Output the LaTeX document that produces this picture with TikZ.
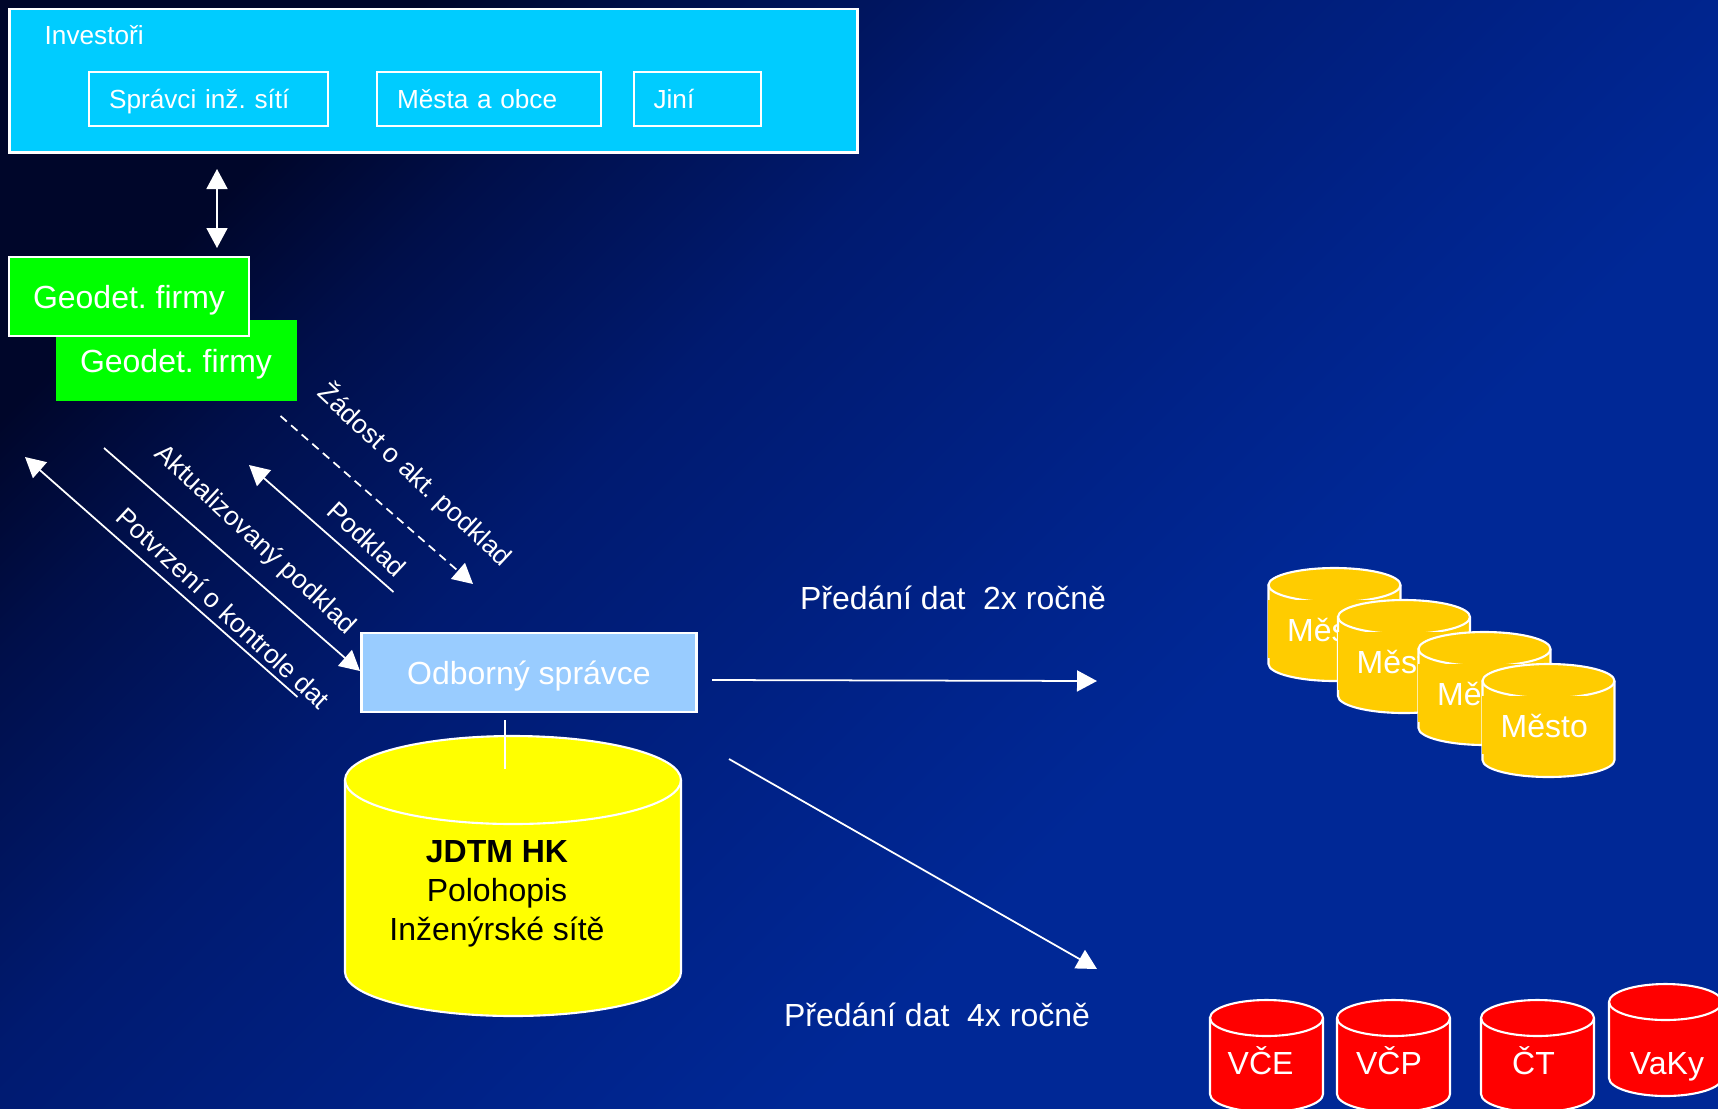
\documentclass[tikz,border=0pt]{standalone}
\usepackage{fontspec}
\setmainfont{Liberation Sans}
\usepackage{tikz}
\usetikzlibrary{arrows.meta}
\frenchspacing

\definecolor{bgdark}{HTML}{00062A}
\definecolor{bgnavy}{HTML}{000F4A}
\definecolor{bgmid}{HTML}{001A70}
\definecolor{bgdeep}{HTML}{00238A}
\definecolor{bgblue}{HTML}{002896}
\definecolor{investcyan}{HTML}{00CCFF}
\definecolor{spravcelight}{HTML}{99CCFF}
\definecolor{firmgreen}{HTML}{00FF00}
\definecolor{jdtmyellow}{HTML}{FFFF00}
\definecolor{mestogold}{HTML}{FFCC00}
\definecolor{utilred}{HTML}{FF0000}

\pgfdeclareverticalshading{bgfade}{100bp}{color(0bp)=(bgblue); color(37.5bp)=(bgblue); color(45bp)=(bgdeep); color(59bp)=(bgmid); color(69bp)=(bgnavy); color(75bp)=(bgdark); color(100bp)=(bgdark)}

\tikzset{
	smalltxt/.style={font=\fontsize{7.45}{9}\selectfont,text=white},
	bigtxt/.style={font=\fontsize{9.1}{11.1}\selectfont,text=white},
	difftxt/.style={font=\fontsize{7.55}{9}\selectfont,text=white,rotate=-43},
	innerbox/.style={draw=white,line width=.6pt,smalltxt,anchor=west,inner xsep=.2cm,inner ysep=0pt,minimum height=.54cm,text height=1.6ex,text depth=.56ex},
	firmbox/.style={fill=firmgreen,bigtxt,text depth=0pt,inner sep=0pt},
	link/.style={color=white,line width=.5pt},
	tip/.style={link,-{Triangle[width=.21cm,length=.2cm]}},
	bothtip/.style={link,{Triangle[width=.21cm,length=.2cm]}-{Triangle[width=.21cm,length=.2cm]}},
	drumline/.style={draw=white,line width=.6pt},
	bigdrum/.style={drumline,fill=jdtmyellow},
	mestodrum/.style={drumline,fill=mestogold},
	reddrum/.style={drumline,fill=utilred},
	mestobox/.style={fill=mestogold,anchor=west,minimum width=1.04cm,minimum height=.58cm,inner sep=0pt},
}

% centre x, y of the upper ellipse, x radius, y radius, height, style
\newcommand{\drum}[6]{
	\draw[#6] (#1-#3,#2) -- (#1-#3,#2-#5) arc (180:360:#3 and #4) -- (#1+#3,#2) arc (0:180:#3 and #4) -- cycle;
	\draw[drumline] (#1-#3,#2) arc (180:360:#3 and #4);
}

\begin{document}
\begin{tikzpicture}
	\clip (0,0) rectangle (17.18,-11.08);
	\shade[shading=bgfade,shading angle=45] (0,0) rectangle (17.18,-11.08);

	% investors
	\node[draw=white,line width=.8pt,fill=investcyan,anchor=north west,minimum width=8.48cm,minimum height=1.435cm,inner sep=0pt] (invest) at (0.08,-0.075) {};
	\node[smalltxt,anchor=west,inner sep=0pt] (investtxt) at (0.44,-0.35) {Investoři};
	\node[innerbox,text width=1.99cm] (spravci) at (0.88,-0.99) {Správci inž. sítí};
	\node[innerbox,text width=1.84cm] (mesta) at (3.76,-0.99) {Města a obce};
	\node[innerbox,text width=0.87cm] (jini) at (6.325,-0.99) {Jiní};

	% firms
	\node[firmbox,minimum width=2.41cm,minimum height=.81cm] (firm2) at (1.76,-3.605) {Geodet. firmy};
	\node[firmbox,draw=white,line width=.6pt,minimum width=2.40cm,minimum height=.79cm] (firm1) at (1.29,-2.965) {Geodet. firmy};

	\node[draw=white,line width=.6pt,fill=spravcelight,bigtxt,text depth=0pt,minimum width=3.35cm,minimum height=.79cm,inner sep=0pt] (spravce) at (5.29,-6.725) {Odborný správce};

	% main database
	\drum{5.13}{-7.80}{1.68}{.44}{1.92}{bigdrum}
	\node[bigtxt,text=black,align=center,inner sep=0pt] (jdtmtxt) at (4.97,-8.935) {\textbf{JDTM HK}\\Polohopis\\Inženýrské sítě};

	% free ends
	\coordinate (updown1) at (2.17,-1.69);
	\coordinate (updown2) at (2.17,-2.48);
	\coordinate (zadost1) at (2.805,-4.16);
	\coordinate (zadost2) at (4.73,-5.84);
	\coordinate (podklad1) at (3.935,-5.92);
	\coordinate (podklad2) at (2.49,-4.65);
	\coordinate (aktual1) at (1.04,-4.48);
	\coordinate (aktual2) at (3.60,-6.71);
	\coordinate (potvrz1) at (2.975,-6.97);
	\coordinate (potvrz2) at (0.25,-4.57);
	\coordinate (stem1) at (5.05,-7.20);
	\coordinate (stem2) at (5.05,-7.69);
	\coordinate (twice1) at (7.12,-6.80);
	\coordinate (twice2) at (10.97,-6.81);
	\coordinate (four1) at (7.29,-7.59);
	\coordinate (four2) at (10.97,-9.69);

	\path[bothtip] (updown1) edge (updown2);
	\path[tip,dash pattern=on 2.4pt off 1.6pt] (zadost1) edge (zadost2);
	\path[tip] (podklad1) edge (podklad2);
	\path[tip] (aktual1) edge (aktual2);
	\path[tip] (potvrz1) edge (potvrz2);
	\path[link] (stem1) edge (stem2);
	\path[tip] (twice1) edge (twice2);
	\path[tip] (four1) edge (four2);

	\node[difftxt] (zadosttxt) at (4.15,-4.75) {Žádost o akt. podklad};
	\node[difftxt] (podkladtxt) at (3.67,-5.39) {Podklad};
	\node[difftxt] (aktualtxt) at (2.55,-5.40) {Aktualizovaný podklad};
	\node[difftxt] (potvrztxt) at (2.235,-6.08) {Potvrzení o kontrole dat};

	\node[bigtxt] (twicetxt) at (9.53,-5.98) {Předání dat\ \ 2x ročně};
	\node[bigtxt] (fourtxt) at (9.37,-10.15) {Předání dat\ \ 4x ročně};

	% cities
	\drum{13.345}{-5.85}{.66}{.17}{.79}{mestodrum}
	\node[mestobox] (mestobox1) at (12.675,-6.29) {};
	\node[bigtxt,anchor=west,inner sep=0pt] (mestotxt1) at (12.865,-6.30) {Město};
	\drum{14.04}{-6.17}{.66}{.17}{.79}{mestodrum}
	\node[mestobox] (mestobox2) at (13.37,-6.61) {};
	\node[bigtxt,anchor=west,inner sep=0pt] (mestotxt2) at (13.56,-6.62) {Město};
	\drum{14.845}{-6.49}{.66}{.17}{.79}{mestodrum}
	\node[mestobox] (mestobox3) at (14.175,-6.93) {};
	\node[bigtxt,anchor=west,inner sep=0pt] (mestotxt3) at (14.365,-6.94) {Město};
	\drum{15.485}{-6.81}{.66}{.17}{.79}{mestodrum}
	\node[mestobox] (mestobox4) at (14.81,-7.25) {};
	\node[bigtxt,anchor=west,inner sep=0pt] (mestotxt4) at (15.0,-7.26) {Město};

	% utilities
	\drum{12.665}{-10.18}{.565}{.18}{.76}{reddrum}
	\node[bigtxt] (vcetxt) at (12.606,-10.61) {VČE};
	\drum{13.935}{-10.18}{.565}{.18}{.76}{reddrum}
	\node[bigtxt] (vcptxt) at (13.89,-10.61) {VČP};
	\drum{15.375}{-10.18}{.565}{.18}{.76}{reddrum}
	\node[bigtxt] (cttxt) at (15.335,-10.61) {ČT};
	\drum{16.655}{-10.02}{.565}{.18}{.76}{reddrum}
	\node[bigtxt] (vakytxt) at (16.67,-10.67) {VaKy};
\end{tikzpicture}
\end{document}
